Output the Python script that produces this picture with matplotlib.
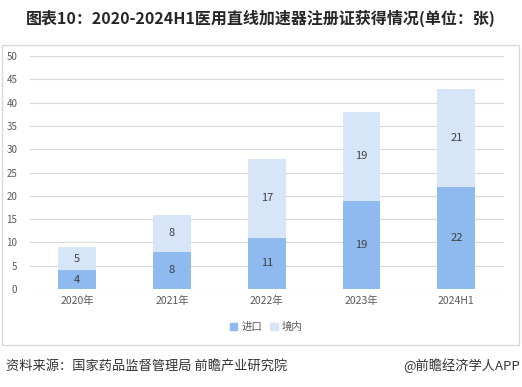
import numpy as np
import matplotlib.pyplot as plt
from matplotlib.patches import Rectangle

plt.rcParams['font.family'] = ['Noto Sans CJK SC', 'DejaVu Sans']

years = ['2020年', '2021年', '2022年', '2023年', '2024H1']
imported = [4, 8, 11, 19, 22]
domestic = [5, 8, 17, 19, 21]

c_imp = '#8FBAF0'
c_dom = '#D7E5F8'
txt = '#595959'

fig = plt.figure(figsize=(5.22, 3.87), dpi=100)
ax = fig.add_axes([0.057, 0.253, 0.908, 0.602])

x = np.arange(len(years))
ax.bar(x, imported, width=0.4, color=c_imp, zorder=3)
ax.bar(x, domestic, width=0.4, bottom=imported, color=c_dom, zorder=3)

for i in range(len(years)):
    ax.text(x[i], imported[i] / 2, str(imported[i]), ha='center', va='center',
            fontsize=8, color='#404040', zorder=4)
    ax.text(x[i], imported[i] + domestic[i] / 2, str(domestic[i]), ha='center',
            va='center', fontsize=8, color='#404040', zorder=4)

ax.set_xlim(-0.5, len(years) - 0.5)
ax.set_ylim(0, 50)
ax.set_yticks(np.arange(0, 51, 5))
ax.set_xticks(x)
ax.set_xticklabels(years)
ax.grid(axis='y', color='#D9D9D9', linewidth=0.8, zorder=0)
for s in ax.spines.values():
    s.set_visible(False)
ax.tick_params(axis='both', length=0, labelcolor=txt)
ax.tick_params(axis='y', pad=9, labelsize=7)
ax.tick_params(axis='x', pad=5, labelsize=7.5)

# legend
handles = [Rectangle((0, 0), 1, 1, color=c_imp), Rectangle((0, 0), 1, 1, color=c_dom)]
fig.legend(handles, ['进口', '境内'], loc='center', bbox_to_anchor=(0.51, 0.155),
           ncol=2, frameon=False, fontsize=7.5, handlelength=0.7, handleheight=0.7,
           handletextpad=0.4, columnspacing=0.8, labelcolor=txt)

# chart border
fig.add_artist(Rectangle((0.004, 0.109), 0.99, 0.775, transform=fig.transFigure,
                         fill=False, edgecolor='#D9D9D9', linewidth=1.0))

fig.text(0.5, 0.953, '图表10：2020-2024H1医用直线加速器注册证获得情况(单位：张)',
         ha='center', va='center', fontsize=11.5, fontweight='bold', color='#262626')
fig.text(0.012, 0.054, '资料来源：国家药品监督管理局 前瞻产业研究院', ha='left',
         va='center', fontsize=9.5, color='#333333')
fig.text(0.997, 0.054, '@前瞻经济学人APP', ha='right', va='center', fontsize=9.5,
         color='#333333')

fig.savefig('out.png', dpi=100, facecolor='white')
